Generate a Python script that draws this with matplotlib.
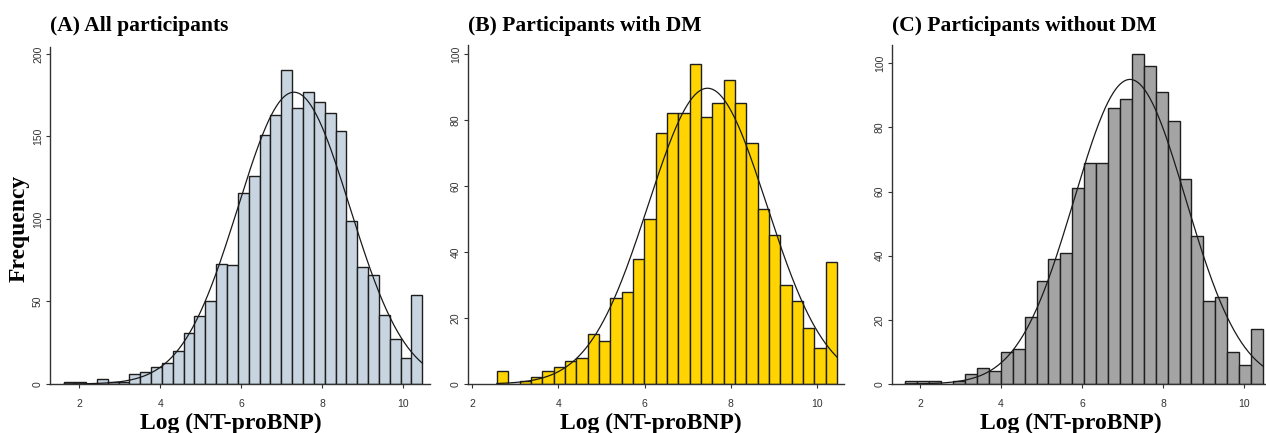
import numpy as np
import matplotlib
matplotlib.use('Agg')
import matplotlib.pyplot as plt

W, H = 1266, 433
DPI = 100

# ---- data ----
a_start, a_width = 1.63, 0.2679
a_counts = [1, 1, 0, 3, 1, 1, 6, 7, 10, 13, 20, 31, 41, 50, 73, 72, 116, 126,
            151, 163, 190, 167, 177, 171, 164, 153, 99, 71, 66, 42, 27, 16, 54]
a_mean, a_sd = 7.30, 1.38

b_start, b_width = 2.57, 0.2633
b_counts = [4, 0, 1, 2, 4, 5, 7, 8, 15, 13, 26, 28, 38, 50, 76, 82, 82, 97,
            81, 85, 92, 85, 73, 53, 45, 30, 25, 17, 11, 37]
b_mean, b_sd = 7.46, 1.374

c_start, c_width = 1.64, 0.294
c_counts = [1, 1, 1, 0, 1, 3, 5, 4, 10, 11, 21, 32, 39, 41, 61, 69, 69, 86,
            89, 103, 99, 91, 82, 64, 46, 26, 27, 10, 6, 17]
c_mean, c_sd = 7.18, 1.377

titles = ["(A) All participants", "(B) Participants with DM", "(C) Participants without DM"]
x_label = "Log (NT-proBNP)"
y_label = "Frequency"
x_ticks = [2, 4, 6, 8, 10]
a_yticks = [0, 50, 100, 150, 200]
bc_yticks = [0, 20, 40, 60, 80, 100]

colors = ["#C8D4E0", "#FFD400", "#A4A4A4"]

# ---- layout (pixels) ----
panels = [
    dict(start=a_start, width=a_width, counts=a_counts, mean=a_mean, sd=a_sd,
         yticks=a_yticks, box=(50, 430, 47, 384), xlim=(1.277, 10.66), ylim=(0, 204.2),
         xlab_cx=231),
    dict(start=b_start, width=b_width, counts=b_counts, mean=b_mean, sd=b_sd,
         yticks=bc_yticks, box=(467.7, 844, 45, 384), xlim=(1.893, 10.63), ylim=(0, 102.7),
         xlab_cx=651),
    dict(start=c_start, width=c_width, counts=c_counts, mean=c_mean, sd=c_sd,
         yticks=bc_yticks, box=(891.7, 1266, 45, 384), xlim=(1.302, 10.535), ylim=(0, 105.7),
         xlab_cx=1071),
]

fig = plt.figure(figsize=(W / DPI, H / DPI), dpi=DPI)
fig.patch.set_facecolor("white")

serif = "Liberation Serif"
sans = "Liberation Sans"

for i, p in enumerate(panels):
    l, r, t, b = p["box"]
    ax = fig.add_axes([l / W, (H - b) / H, (r - l) / W, (b - t) / H])
    counts = np.array(p["counts"], dtype=float)
    n = len(counts)
    edges = p["start"] + p["width"] * np.arange(n + 1)
    ax.bar(edges[:-1], counts, width=p["width"], align="edge", color=colors[i],
           edgecolor="#1e1e1e", linewidth=1.0, zorder=2)
    xs = np.linspace(edges[0], edges[-1], 400)
    total = counts.sum()
    dens = np.exp(-0.5 * ((xs - p["mean"]) / p["sd"]) ** 2) / (p["sd"] * np.sqrt(2 * np.pi))
    ax.plot(xs, dens * total * p["width"], color="#1a1a1a", linewidth=0.9, zorder=3)

    ax.set_xlim(*p["xlim"])
    ax.set_ylim(*p["ylim"])
    ax.set_xticks(x_ticks)
    ax.set_yticks(p["yticks"])
    for s in ["top", "right"]:
        ax.spines[s].set_visible(False)
    for s in ["left", "bottom"]:
        ax.spines[s].set_linewidth(1.0)
        ax.spines[s].set_color("#333333")
    ax.tick_params(axis="both", direction="out", length=3, width=0.8, color="#333333",
                   labelsize=7.5, labelcolor="#333333")
    ax.tick_params(axis="x", pad=7.5)
    ax.tick_params(axis="y", pad=2)
    for lab in ax.get_xticklabels() + ax.get_yticklabels():
        lab.set_family(sans)
    for lab in ax.get_yticklabels():
        lab.set_rotation(90)
        lab.set_va("center")
    ax.patch.set_alpha(0)

    fig.text(l / W, 1 - 31 / H, titles[i], fontfamily=serif, fontweight="bold",
             fontsize=15.5, ha="left", va="baseline")
    fig.text(p["xlab_cx"] / W, 1 - 413 / H, x_label, fontfamily=serif, fontweight="bold",
             fontsize=17, ha="center", va="top")

fig.text(19.5 / W, 1 - 228 / H, y_label, fontfamily=serif, fontweight="bold",
         fontsize=17, rotation=90, ha="center", va="center")

fig.savefig("out.png", dpi=DPI, facecolor="white")
